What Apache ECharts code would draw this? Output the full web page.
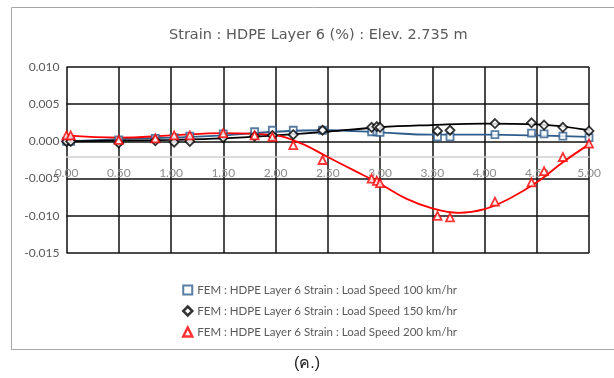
<!DOCTYPE html>
<html>
<head>
<meta charset="utf-8">
<script src="https://cdn.jsdelivr.net/npm/echarts@6/dist/echarts.min.js"></script>
<style>
body { margin: 0; padding: 0; background: #fff; }
#chart { width: 614px; height: 378px; }
</style>
</head>
<body>
<div id="chart"></div>
<script>
// distance (m) of each FEM output point
const xs = [0.00, 0.04, 0.50, 0.85, 1.03, 1.18, 1.50, 1.80, 1.97, 2.17, 2.45, 2.92, 2.97, 3.00, 3.55, 3.67, 4.10, 4.45, 4.57, 4.75, 5.00]

const strain100 = [0.0000, 0.0000, 0.0002, 0.0004, 0.0005, 0.0007, 0.0010, 0.0013, 0.0015, 0.0015, 0.0015, 0.0013, 0.0013, 0.0012, 0.0006, 0.0006, 0.0009, 0.0011, 0.0010, 0.0007, 0.0005]
const strain150 = [0.0000, 0.0000, -0.0002, 0.0001, -0.0001, 0.0000, 0.0005, 0.0007, 0.0008, 0.0009, 0.0015, 0.0019, 0.0020, 0.0019, 0.0014, 0.0015, 0.0024, 0.0025, 0.0022, 0.0019, 0.0014]
const strain200 = [0.0008, 0.0008, 0.0002, 0.0004, 0.0008, 0.0008, 0.0011, 0.0008, 0.0006, -0.0005, -0.0025, -0.0050, -0.0053, -0.0056, -0.0100, -0.0102, -0.0081, -0.0055, -0.0040, -0.0021, -0.0003]

// trend lines
const trendX = [0.0, 0.5, 1.0, 1.5, 2.0, 2.5, 3.0, 3.5, 4.0, 4.5, 5.0]
const trend100 = [0.0000, 0.0003, 0.0005, 0.0008, 0.0013, 0.0015, 0.0012, 0.0009, 0.0009, 0.0008, 0.0006]
const trend150 = [0.0000, 0.0001, 0.0002, 0.0004, 0.0008, 0.0013, 0.0019, 0.0022, 0.0024, 0.0023, 0.0015]
const trend200X = [0.0, 0.5, 1.0, 1.5, 2.0, 2.25, 2.5, 2.75, 3.0, 3.25, 3.5, 3.75, 4.0, 4.25, 4.5, 4.75, 5.0]
const trend200 = [0.0008, 0.0005, 0.0008, 0.0011, 0.0008, -0.0003, -0.0021, -0.0039, -0.0057, -0.0077, -0.0090, -0.0096, -0.0091, -0.0076, -0.0055, -0.0028, -0.0004]

const names = [
  'FEM : HDPE Layer 6 Strain : Load Speed 100 km/hr',
  'FEM : HDPE Layer 6 Strain : Load Speed 150 km/hr',
  'FEM : HDPE Layer 6 Strain : Load Speed 200 km/hr'
]
const colors = ['#2F5D8C', '#000000', '#FF0000']

const yMin = -0.015, yMax = 0.010, xCross = -0.002
const gridTop = 67, gridBottom = 125, gridH = 378 - gridTop - gridBottom

const pairs = (a, b) => a.map((v, i) => [v, b[i]])

const chart = echarts.init(document.getElementById('chart'))

const marker = (name, data, symbol, size, color) => ({
  name: name,
  type: 'scatter',
  data: data,
  symbol: symbol,
  symbolSize: size,
  z: 5,
  itemStyle: { color: '#fff', borderColor: color, borderWidth: 1.8 }
})
const trend = (data, color) => ({
  type: 'line',
  data: data,
  smooth: 0.4,
  showSymbol: false,
  silent: true,
  z: 3,
  lineStyle: { color: color, width: 1.8 }
})

chart.setOption({
  backgroundColor: '#fff',
  animation: false,
  title: {
    text: 'Strain : HDPE Layer 6 (%) : Elev. 2.735 m',
    left: 164,
    top: 23,
    textStyle: { fontFamily: 'DejaVu Sans', fontSize: 14.5, fontWeight: 'normal', color: '#595959' }
  },
  graphic: [
    { type: 'rect', shape: { x: 11.5, y: 7.5, width: 640, height: 342 }, style: { fill: 'none', stroke: '#a6a6a6', lineWidth: 1 }, z: -1 },
    { type: 'text', left: 'center', top: 356, style: { text: '(ค.)', fontSize: 16, fill: '#222', fontFamily: 'sans-serif' } }
  ],
  legend: {
    orient: 'vertical',
    left: 177,
    top: 279,
    itemGap: 9,
    itemWidth: 9,
    itemHeight: 9,
    textStyle: { fontFamily: 'Lato', fontSize: 11.5, color: '#595959' },
    data: [
      { name: names[0], icon: 'rect', itemStyle: { color: '#fff', borderColor: colors[0], borderWidth: 2 } },
      { name: names[1], icon: 'diamond', itemStyle: { color: '#fff', borderColor: colors[1], borderWidth: 2.5 } },
      { name: names[2], icon: 'triangle', itemStyle: { color: '#fff', borderColor: colors[2], borderWidth: 2.5 } }
    ]
  },
  grid: { left: 66.5, right: 25, top: gridTop, bottom: gridBottom },
  xAxis: {
    type: 'value',
    min: 0,
    max: 5,
    interval: 0.5,
    offset: -(xCross - yMin) / (yMax - yMin) * gridH,
    axisLine: { onZero: false, lineStyle: { color: '#d0d0d0', width: 1.5 } },
    axisTick: { show: false },
    axisLabel: { formatter: v => v.toFixed(2), color: '#8c8c8c', fontFamily: 'Lato', fontSize: 12, margin: 11 },
    splitLine: { lineStyle: { color: '#111', width: 1.5 } }
  },
  yAxis: {
    type: 'value',
    min: yMin,
    max: yMax,
    interval: 0.005,
    axisLine: { show: false },
    axisTick: { show: false },
    axisLabel: { formatter: v => v.toFixed(3), color: '#595959', fontFamily: 'Lato', fontSize: 12, margin: 7 },
    splitLine: { lineStyle: { color: '#111', width: 1.5 } }
  },
  series: [
    trend(pairs(trendX, trend100), colors[0]),
    trend(pairs(trendX, trend150), colors[1]),
    trend(pairs(trend200X, trend200), colors[2]),
    marker(names[0], pairs(xs, strain100), 'rect', 7, colors[0]),
    marker(names[1], pairs(xs, strain150), 'diamond', 9, colors[1]),
    marker(names[2], pairs(xs, strain200), 'triangle', 8, colors[2])
  ]
})
</script>
</body>
</html>
